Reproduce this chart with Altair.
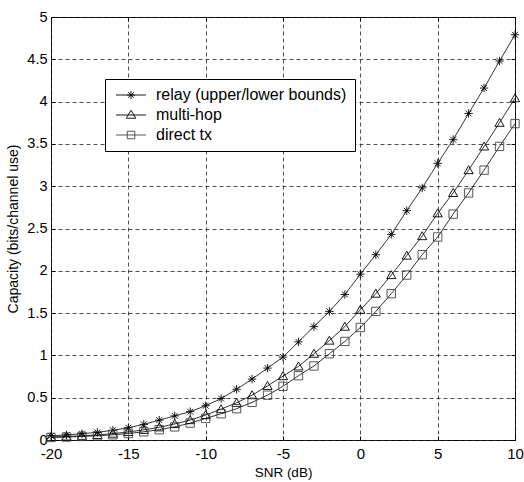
import altair as alt
import pandas as pd

# ---- data ----
snr = list(range(-20, 11))
relay = [0.05, 0.06, 0.075, 0.09, 0.115, 0.145, 0.185, 0.235, 0.285, 0.335,
         0.405, 0.49, 0.60, 0.72, 0.85, 0.98, 1.16, 1.34, 1.52, 1.72,
         1.96, 2.19, 2.43, 2.71, 2.98, 3.27, 3.55, 3.86, 4.16, 4.48, 4.79]
multihop = [0.035, 0.042, 0.05, 0.06, 0.075, 0.095, 0.12, 0.15, 0.19, 0.235,
            0.295, 0.365, 0.44, 0.53, 0.64, 0.755, 0.87, 1.02, 1.175, 1.34,
            1.54, 1.73, 1.95, 2.18, 2.41, 2.68, 2.92, 3.19, 3.47, 3.75, 4.04]
direct = [0.03, 0.035, 0.042, 0.05, 0.062, 0.077, 0.097, 0.122, 0.155, 0.20,
          0.255, 0.31, 0.37, 0.445, 0.53, 0.635, 0.76, 0.875, 1.02, 1.165,
          1.33, 1.52, 1.73, 1.95, 2.19, 2.40, 2.67, 2.92, 3.19, 3.47, 3.74]
series_names = ["relay (upper/lower bounds)", "multi-hop", "direct tx"]
x_ticks = [-20, -15, -10, -5, 0, 5, 10]
y_ticks = [0, 0.5, 1, 1.5, 2, 2.5, 3, 3.5, 4, 4.5, 5]

rows = []
for name, vals in zip(series_names, [relay, multihop, direct]):
    for s, v in zip(snr, vals):
        rows.append({"snr": s, "cap": v, "series": name})
df = pd.DataFrame(rows)

W, H = 464, 423
FONT = "Liberation Sans"
series_colors = ["black", "black", "#444444"]

marker_paths = [
    "M0,-1L0,1M-1,0L1,0M-0.7,-0.7L0.7,0.7M-0.7,0.7L0.7,-0.7",
    "M0,-1.05L1.1,0.85L-1.1,0.85Z",
    "M-1,-1L1,-1L1,1L-1,1Z",
]
legend_paths = [
    "M-3,0L3,0M0,-0.8L0,0.8M-0.8,0L0.8,0M-0.57,-0.57L0.57,0.57M-0.57,0.57L0.57,-0.57",
    "M-3,0L3,0M0,-0.95L0.95,0.65L-0.95,0.65Z",
    "M-3,0L3,0M-0.75,-0.75L0.75,-0.75L0.75,0.75L-0.75,0.75Z",
]

xscale = alt.Scale(domain=[-20, 10], nice=False, zero=False)
yscale = alt.Scale(domain=[0, 5], nice=False, zero=False)

common_lab = dict(labelFont=FONT, labelColor="black",
                  titleFont=FONT, titleFontWeight="normal", titleColor="black",
                  labelFlush=False)

x_main = alt.X("snr:Q", scale=xscale, axis=alt.Axis(
    values=x_ticks, labelExpr="'' + datum.value", title="SNR (dB)", grid=True,
    gridDash=[4, 3], gridColor="#222222", gridWidth=0.8, domain=False, ticks=False,
    labelPadding=6, labelFontSize=15, titleFontSize=13.5, titlePadding=4, **common_lab))
y_main = alt.Y("cap:Q", scale=yscale, axis=alt.Axis(
    values=y_ticks, format="~g", title="Capacity  (bits/channel use)",
    grid=True, gridDash=[4, 3], gridColor="#222222", gridWidth=0.8,
    domain=False, ticks=False, labelPadding=4, labelFontSize=14.5, titleFontSize=14,
    titlePadding=6, **common_lab))

lines = alt.Chart(df).mark_line(color="black", strokeWidth=0.8).encode(
    x=x_main, y=y_main, detail="series:N")

points = alt.Chart(df).mark_point(filled=False, strokeWidth=0.9, opacity=1).encode(
    x=alt.X("snr:Q", scale=xscale, axis=alt.Axis(
        orient="top", offset=-H, values=x_ticks, labels=False, grid=False,
        domain=False, ticks=True, tickSize=4, tickColor="black", title="")),
    y=alt.Y("cap:Q", scale=yscale, axis=alt.Axis(
        orient="right", offset=-W, values=y_ticks, labels=False, grid=False,
        domain=False, ticks=True, tickSize=4, tickColor="black", title="")),
    shape=alt.Shape("series:N", scale=alt.Scale(domain=series_names, range=marker_paths), legend=None),
    color=alt.Color("series:N", scale=alt.Scale(domain=series_names, range=series_colors), legend=None),
    size=alt.value(70),
)

legend_layer = alt.Chart(df).transform_filter("datum.snr > 1000").mark_point(
    filled=False, strokeWidth=0.9, opacity=1).encode(
    x=alt.X("snr:Q", scale=xscale, axis=alt.Axis(
        orient="bottom", offset=-H, values=x_ticks, labels=False, grid=False,
        domain=False, ticks=True, tickSize=4, tickColor="black", title="")),
    y=alt.Y("cap:Q", scale=yscale, axis=alt.Axis(
        orient="left", offset=-W, values=y_ticks, labels=False, grid=False,
        domain=False, ticks=True, tickSize=4, tickColor="black", title="")),
    shape=alt.Shape("series:N", scale=alt.Scale(domain=series_names, range=legend_paths),
                    legend=alt.Legend(title=None, orient="none", legendX=54, legendY=62,
                                      fillColor="white", strokeColor="black", padding=8,
                                      symbolSize=100, symbolStrokeWidth=0.9,
                                      symbolOffset=10, labelOffset=17, rowPadding=4,
                                      labelFont=FONT, labelFontSize=16, labelColor="black",
                                      labelLimit=400)),
    color=alt.Color("series:N", scale=alt.Scale(domain=series_names, range=series_colors)),
)

chart = alt.layer(lines, points, legend_layer).resolve_scale(
    shape="independent", color="independent").resolve_axis(
    x="independent", y="independent").properties(
    width=W, height=H,
    autosize=alt.AutoSizeParams(type="none"),
    padding={"left": 51, "top": 17, "right": 9, "bottom": 42},
    background="white",
).configure_view(stroke="black", strokeWidth=1)

chart.save("out.html", embed_options={"renderer": "svg", "actions": False})
